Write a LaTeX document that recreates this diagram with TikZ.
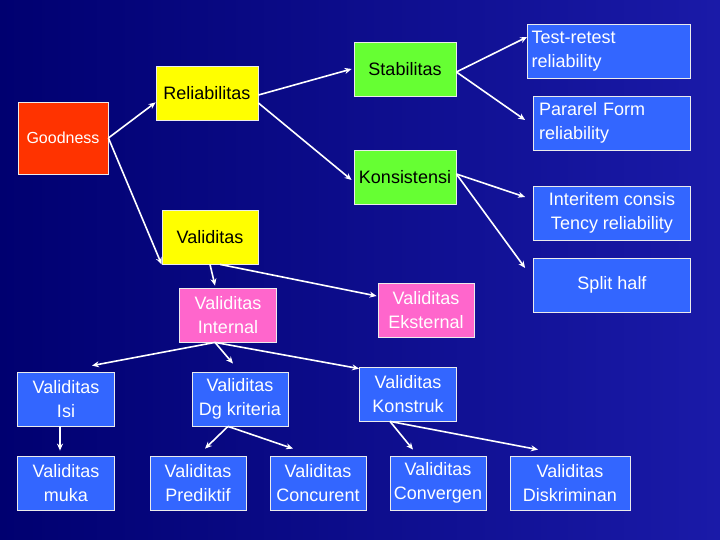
\documentclass[tikz,border=0pt]{standalone}
\usepackage{fontspec}
\setmainfont{Liberation Sans}
\usetikzlibrary{arrows.meta}
\definecolor{bgA}{HTML}{000070}
\definecolor{bgB}{HTML}{1A1AA8}
\definecolor{cyel}{HTML}{FFFF00}
\definecolor{cred}{HTML}{FF3300}
\definecolor{cgrn}{HTML}{66FF33}
\definecolor{cpnk}{HTML}{FF66CC}
\definecolor{cblu}{HTML}{3366FF}
\begin{document}
\begin{tikzpicture}[x=1pt,y=1pt,
  box/.style={draw=white!85!gray, line width=0.8pt, minimum height=54pt, inner sep=1pt, align=center, font=\fontsize{18}{24}\selectfont},
  ybox/.style={box, fill=cyel, text=black},
  gbox/.style={box, fill=cgrn, text=black},
  pbox/.style={box, fill=cpnk, text=white},
  bbox/.style={box, fill=cblu, text=white},
  arr/.style={draw=white, line width=1.6pt, -{Stealth[length=7pt,width=6pt]}}]
\shade[left color=bgA, right color=bgB] (0,0) rectangle (720,-540);
\useasboundingbox (0,0) rectangle (720,-540);
\node[box, fill=cred, text=white, minimum width=90pt, minimum height=72pt, font=\fontsize{16}{18}\selectfont] (good) at (63,-138) {Goodness};
\node[ybox, minimum width=102pt] (rel) at (207,-93) {Reliabilitas};
\node[ybox, minimum width=96pt] (val) at (210,-237) {Validitas};
\node[gbox, minimum width=102pt] (stab) at (405,-69) {Stabilitas};
\node[gbox, minimum width=102pt] (kons) at (405,-177) {Konsistensi};
\node[bbox, minimum width=163pt, align=left, text width=155pt] (test) at (609,-51) {Test-retest\\reliability};
\node[bbox, minimum width=157pt, align=left, text width=146pt] (par) at (612,-123) {Pararel Form\\reliability};
\node[bbox, minimum width=157pt] (inter) at (612,-213) {Interitem consis\\Tency reliability};
\node[bbox, minimum width=157pt] (split) at (612,-285) {Split half};
\node[pbox, minimum width=97pt] (int) at (228,-315) {Validitas\\Internal};
\node[pbox, minimum width=96pt] (eks) at (426,-310) {Validitas\\Eksternal};
\node[bbox, minimum width=97pt] (isi) at (66,-399) {Validitas\\Isi};
\node[bbox, minimum width=96pt] (dg) at (240,-399) {Validitas\\Dg kriteria};
\node[bbox, minimum width=97pt] (kon) at (408,-394) {Validitas\\Konstruk};
\node[bbox, minimum width=97pt] (muka) at (66,-483) {Validitas\\muka};
\node[bbox, minimum width=96pt] (pred) at (198,-483) {Validitas\\Prediktif};
\node[bbox, minimum width=96pt] (conc) at (318,-483) {Validitas\\Concurent};
\node[bbox, minimum width=96pt] (conv) at (438,-483) {Validitas\\Convergen};
\node[bbox, minimum width=120pt] (disk) at (570,-483) {Validitas\\Diskriminan};
\draw[arr] (good.east) -- ([yshift=18pt]rel.south west);
\draw[arr] (good.east) -- (val.south west);
\draw[arr] ([yshift=-2pt]rel.east) -- ([xshift=-2pt]stab.west);
\draw[arr] ([yshift=-10pt]rel.east) -- ([xshift=-2pt,yshift=-3pt]kons.west);
\draw[arr] ([yshift=-3pt]stab.east) -- ([yshift=14pt]test.west);
\draw[arr] ([yshift=-3pt]stab.east) -- ([xshift=-8pt,yshift=3pt]par.west);
\draw[arr] ([yshift=3pt]kons.east) -- ([xshift=-8pt,yshift=16pt]inter.west);
\draw[arr] ([yshift=3pt]kons.east) -- ([xshift=-8pt,yshift=17pt]split.west);
\draw[arr] (val.south) -- ([xshift=-13pt,yshift=2pt]int.north);
\draw[arr] ([xshift=10pt]val.south) -- ([xshift=-1pt,yshift=14pt]eks.west);
\draw[arr] ([xshift=-13pt]int.south) -- ([xshift=26pt,yshift=6pt]isi.north);
\draw[arr] ([xshift=-13pt]int.south) -- ([xshift=-7pt,yshift=8pt]dg.north);
\draw[arr] ([xshift=-13pt]int.south) -- ([yshift=-2pt]kon.north west);
\draw[arr] ([xshift=-6pt]isi.south) -- ([xshift=-6pt,yshift=5pt]muka.north);
\draw[arr] ([xshift=-12pt]dg.south) -- ([xshift=7pt,yshift=7pt]pred.north);
\draw[arr] ([xshift=-12pt]dg.south) -- ([xshift=-25pt,yshift=7pt]conc.north);
\draw[arr] ([xshift=-18pt]kon.south) -- ([xshift=-25pt,yshift=6pt]conv.north);
\draw[arr] ([xshift=-18pt]kon.south) -- ([xshift=-32pt,yshift=6pt]disk.north);
\end{tikzpicture}
\end{document}
